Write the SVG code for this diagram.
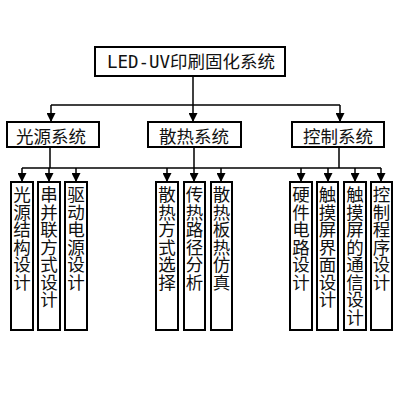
<svg xmlns="http://www.w3.org/2000/svg" width="400" height="400" viewBox="0 0 400 400">
<style>
.box{fill:#fff;stroke:#000;stroke-width:2}
.t{font-family:"Noto Sans CJK SC","DejaVu Sans",sans-serif;font-size:17.5px;fill:#111}
.h{text-anchor:middle;dominant-baseline:central}
.v{writing-mode:vertical-rl;text-orientation:upright;letter-spacing:0}
.ln{fill:none;stroke:#000;stroke-width:1.5}
</style>
<defs>
<marker id="ah" viewBox="0 0 10 10" refX="10" refY="5" markerWidth="9" markerHeight="9" markerUnits="userSpaceOnUse" orient="auto">
<path d="M0,0 L10,5 L0,10 Z" fill="#000"/>
</marker>
</defs>
<rect width="400" height="400" fill="#fff"/>
<g id="connectors">
<path class="ln" d="M193,76 V105"/>
<path class="ln" d="M51,105 H340"/>
<path class="ln" d="M51,105 V122" marker-end="url(#ah)"/>
<path class="ln" d="M193,105 V122" marker-end="url(#ah)"/>
<path class="ln" d="M340,105 V122" marker-end="url(#ah)"/>
<path class="ln" d="M50,147 V168 M194,147 V168 M339,147 V168"/>
<path class="ln" d="M22,168 H381"/>
<path class="ln" d="M22,168 V182" marker-end="url(#ah)"/>
<path class="ln" d="M49,168 V182" marker-end="url(#ah)"/>
<path class="ln" d="M76,168 V182" marker-end="url(#ah)"/>
<path class="ln" d="M167,168 V182" marker-end="url(#ah)"/>
<path class="ln" d="M194,168 V182" marker-end="url(#ah)"/>
<path class="ln" d="M221,168 V182" marker-end="url(#ah)"/>
<path class="ln" d="M301,168 V182" marker-end="url(#ah)"/>
<path class="ln" d="M328,168 V182" marker-end="url(#ah)"/>
<path class="ln" d="M355,168 V182" marker-end="url(#ah)"/>
<path class="ln" d="M381,168 V182" marker-end="url(#ah)"/>
</g>
<g id="root">
<rect class="box" x="95" y="47" width="190" height="29"/>
<text class="t h" x="191" y="62" style="font-family:'DejaVu Sans Mono','Noto Sans CJK SC',monospace">LED-UV印刷固化系统</text>
</g>
<g id="n-light">
<rect class="box" x="7" y="122" width="92" height="25"/>
<text class="t h" x="51" y="135">光源系统</text>
</g>
<g id="n-heat">
<rect class="box" x="148" y="122" width="93" height="25"/>
<text class="t h" x="194" y="135">散热系统</text>
</g>
<g id="n-ctrl">
<rect class="box" x="292" y="122" width="92" height="25"/>
<text class="t h" x="338" y="135">控制系统</text>
</g>
<g id="l1"><rect class="box" x="11" y="182" width="22" height="148"/><text class="t v" x="22" y="186">光源结构设计</text></g>
<g id="l2"><rect class="box" x="38" y="182" width="22" height="148"/><text class="t v" x="49" y="186">串并联方式设计</text></g>
<g id="l3"><rect class="box" x="65" y="182" width="22" height="148"/><text class="t v" x="76" y="186">驱动电源设计</text></g>
<g id="l4"><rect class="box" x="156" y="182" width="22" height="148"/><text class="t v" x="167" y="186">散热方式选择</text></g>
<g id="l5"><rect class="box" x="184" y="182" width="21" height="148"/><text class="t v" x="194.5" y="186">传热路径分析</text></g>
<g id="l6"><rect class="box" x="211" y="182" width="21" height="148"/><text class="t v" x="221.5" y="186">散热板热仿真</text></g>
<g id="l7"><rect class="box" x="290" y="182" width="22" height="148"/><text class="t v" x="301" y="186">硬件电路设计</text></g>
<g id="l8"><rect class="box" x="317" y="182" width="21" height="148"/><text class="t v" x="327.5" y="186">触摸屏界面设计</text></g>
<g id="l9"><rect class="box" x="344" y="182" width="22" height="148"/><text class="t v" x="355" y="186">触摸屏的通信设计</text></g>
<g id="l10"><rect class="box" x="371" y="182" width="21" height="148"/><text class="t v" x="381.5" y="186">控制程序设计</text></g>
</svg>
